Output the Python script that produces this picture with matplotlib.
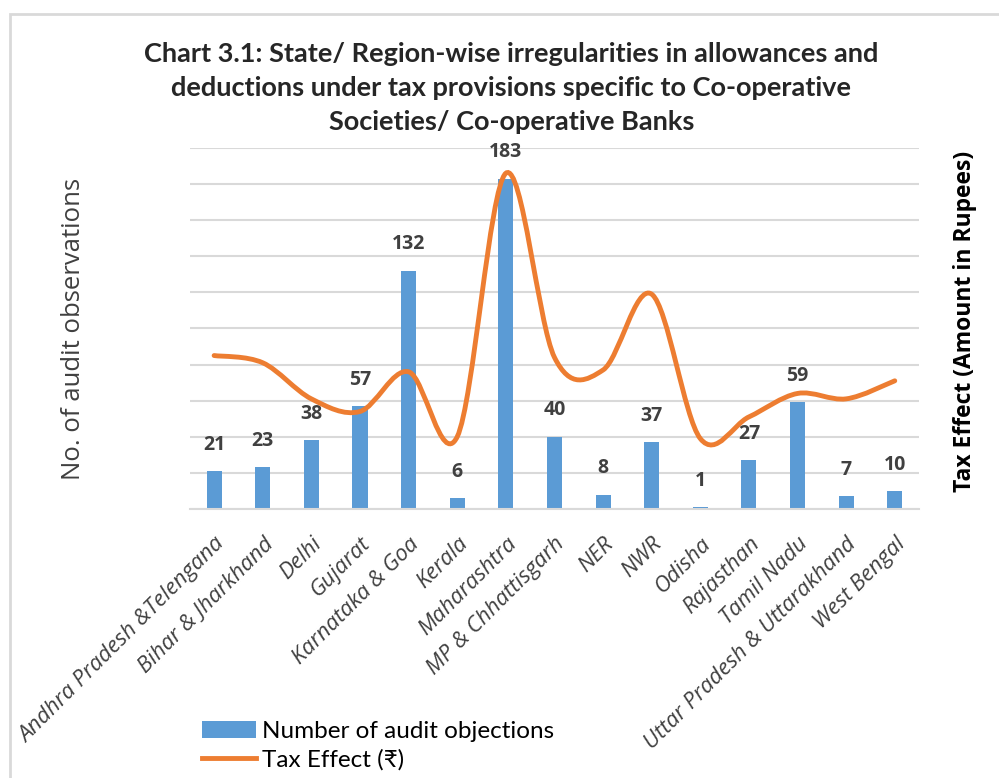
import numpy as np
import matplotlib
matplotlib.use("Agg")
import matplotlib.pyplot as plt
from matplotlib.path import Path
from matplotlib.patches import PathPatch, Rectangle, Patch
from matplotlib.lines import Line2D

# -----------------------------
# Data
# -----------------------------
states = [
    "Andhra Pradesh &Telengana", "Bihar & Jharkhand", "Delhi", "Gujarat",
    "Karnataka & Goa", "Kerala", "Maharashtra", "MP & Chhattisgarh", "NER",
    "NWR", "Odisha", "Rajasthan", "Tamil Nadu", "Uttar Pradesh & Uttarakhand",
    "West Bengal",
]
objections = [21, 23, 38, 57, 132, 6, 183, 40, 8, 37, 1, 27, 59, 7, 10]
tax_effect = [85, 81, 61, 54, 76, 40, 186, 84, 77, 119, 39, 51, 64, 61, 71]

BLUE = "#5b9bd5"
ORANGE = "#ed7d31"
GRID = "#d9d9d9"
TEXT = "#404040"

NARROW = ["Lato", "DejaVu Sans"]
SANS = ["Open Sans", "DejaVu Sans"]


def smooth_path(xs, ys):
    # Excel-style smoothed line: cubic bezier segments (Catmull-Rom)
    pts = np.column_stack([xs, ys]).astype(float)
    n = len(pts)
    verts = [pts[0]]
    codes = [Path.MOVETO]
    for i in range(n - 1):
        p0 = pts[max(i - 1, 0)]
        p1 = pts[i]
        p2 = pts[i + 1]
        p3 = pts[min(i + 2, n - 1)]
        c1 = p1 + (p2 - p0) / 6.0
        c2 = p2 - (p3 - p1) / 6.0
        verts += [c1, c2, p2]
        codes += [Path.CURVE4] * 3
    return Path(verts, codes)


fig = plt.figure(figsize=(9.99, 7.78), dpi=100)
ax = fig.add_axes([0.190, 0.3458, 0.730, 0.464])
ax2 = ax.twinx()

x = np.arange(len(states))
ax.bar(x, objections, width=0.31, color=BLUE, zorder=2)
for xi, v in zip(x, objections):
    ax.annotate(str(v), (xi, v), xytext=(0, 19), textcoords="offset points",
                ha="center", va="center", fontsize=14, fontweight="bold",
                color=TEXT, family=SANS)

ax.set_xlim(-0.5, len(states) - 0.5)
ax.set_ylim(0, 200)
ax.set_yticks(np.arange(0, 201, 20))
ax.yaxis.grid(True, color=GRID, linewidth=1.5, zorder=0)
ax.set_axisbelow(True)
ax.tick_params(axis="y", left=False, labelleft=False)
ax.tick_params(axis="x", bottom=False, pad=14)
ax.set_xticks(x)
ax.set_xticklabels(states, rotation=45, ha="right", va="top",
                   rotation_mode="anchor", fontsize=16, style="italic",
                   color=TEXT, family=SANS)
for s in ["top", "left", "right"]:
    ax.spines[s].set_visible(False)
ax.spines["bottom"].set_color(GRID)
ax.spines["bottom"].set_linewidth(1.5)

ax.set_ylabel("No. of audit observations", fontsize=18.5, color=TEXT,
              family=SANS, labelpad=75)

# secondary axis: smoothed tax effect line
ax2.set_ylim(0, 200)
ax2.add_patch(PathPatch(smooth_path(x, tax_effect), facecolor="none",
                        edgecolor=ORANGE, linewidth=3.5, capstyle="round",
                        zorder=3))
ax2.tick_params(axis="y", right=False, labelright=False)
for s in ax2.spines.values():
    s.set_visible(False)
ax2.set_ylabel("Tax Effect (Amount in Rupees)", fontsize=16.5,
               fontweight="bold", color="black", family=SANS)
ax2.yaxis.set_label_coords(1.046, 0.52)

fig.text(0.512, 0.887,
         "Chart 3.1: State/ Region-wise irregularities in allowances and\n"
         "deductions under tax provisions specific to Co-operative\n"
         "Societies/ Co-operative Banks",
         ha="center", va="center", fontsize=19.5, fontweight="bold",
         family=NARROW, linespacing=1.5, color="#262626")

handles = [Patch(facecolor=BLUE, edgecolor="none"),
           Line2D([0], [0], color=ORANGE, linewidth=3.5)]
fig.legend(handles, ["Number of audit objections", "Tax Effect (\u20b9)"],
           loc="upper left", bbox_to_anchor=(0.192, 0.086),
           frameon=False, prop={"family": NARROW, "size": 17.5},
           handlelength=2.25, handletextpad=0.25, labelspacing=0.3,
           borderaxespad=0.0)

# chart border (top and left edges visible in the reference)
fig.add_artist(Rectangle((0.010, -0.1), 1.2, 1.082, transform=fig.transFigure,
                         fill=False, edgecolor="#d9d9d9", linewidth=2))

fig.savefig("out.png", dpi=100)
